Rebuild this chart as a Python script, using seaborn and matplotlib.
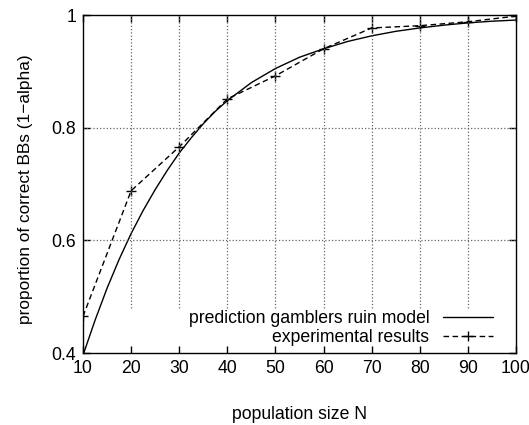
import pandas as pd
import seaborn as sns
import matplotlib
import matplotlib.pyplot as plt

# values
popSize = [10, 20, 30, 40, 50, 60, 70, 80, 90, 100]
experimental = [0.465, 0.688, 0.766, 0.851, 0.892, 0.940, 0.977, 0.981, 0.988, 0.998]

modelN = [10, 12.5, 15, 17.5, 20, 22.5, 25, 27.5, 30, 32.5, 35, 37.5, 40, 45, 50, 55,
          60, 65, 70, 75, 80, 85, 90, 95, 100]
modelVals = [0.396, 0.458, 0.515, 0.566, 0.612, 0.653, 0.690, 0.724, 0.755, 0.782,
             0.807, 0.829, 0.848, 0.880, 0.905, 0.925, 0.940, 0.953, 0.963, 0.971,
             0.977, 0.982, 0.986, 0.989, 0.991]

xTicks = [10, 20, 30, 40, 50, 60, 70, 80, 90, 100]
yTicks = [0.4, 0.6, 0.8, 1.0]
yTickLabels = ['0.4', '0.6', '0.8', '1']

#Plot params
sns.set_style('ticks')
plt.rcParams['font.family'] = ['Liberation Sans', 'DejaVu Sans']
plt.rcParams['text.color'] = 'black'
plt.rcParams['axes.labelcolor'] = 'black'
fs = 12.7

modelFrame = pd.DataFrame({'N': modelN, 'vals': modelVals})
expFrame = pd.DataFrame({'N': popSize, 'vals': experimental})

fig = plt.figure(figsize=(5.29, 4.25), dpi=100)
ax = fig.add_axes([83/529, 1 - 353/425, (516 - 83)/529, (353 - 15)/425])

sns.lineplot(x='N', y='vals', data=modelFrame, ax=ax, color='black', lw=1,
             label='prediction gamblers ruin model')
sns.lineplot(x='N', y='vals', data=expFrame, ax=ax, color='black', lw=1,
             linestyle=(0, (4, 2.5)), marker='+', markersize=6.5, markeredgewidth=1,
             markeredgecolor='black', label='experimental results')

ax.set_xlim(10, 100)
ax.set_ylim(0.4, 1.0)
ax.set_xticks(xTicks)
ax.set_yticks(yTicks)
ax.set_yticklabels(yTickLabels)
ax.tick_params(direction='in', length=5, width=1, top=True, right=True,
               labelsize=fs, pad=5, colors='black')

# gnuplot style grid: vertical lines stop above the key
for x in xTicks[1:-1]:
    ax.axvline(x, ymin=45/338, ymax=1, color='#666666', linestyle=':', linewidth=0.9)
for y in yTicks[1:-1]:
    ax.axhline(y, color='#666666', linestyle=':', linewidth=0.9)

for s in ax.spines.values():
    s.set_linewidth(1)
    s.set_color('black')

ax.set_xlabel('population size N', fontsize=fs, labelpad=21)
ax.set_ylabel('proportion of correct BBs (1\u2212alpha)', fontsize=12.4)
ax.yaxis.set_label_coords(-0.115, 0.485)

leg = ax.legend(loc='lower right', bbox_to_anchor=(0.9746, -0.0163),
                markerfirst=False, frameon=False, fontsize=fs,
                handlelength=2.8, handletextpad=0.8, labelspacing=0.1,
                borderaxespad=0.3, borderpad=0.4)
for t in leg.get_texts():
    t.set_color('black')

plt.savefig('out.png', dpi=100)
